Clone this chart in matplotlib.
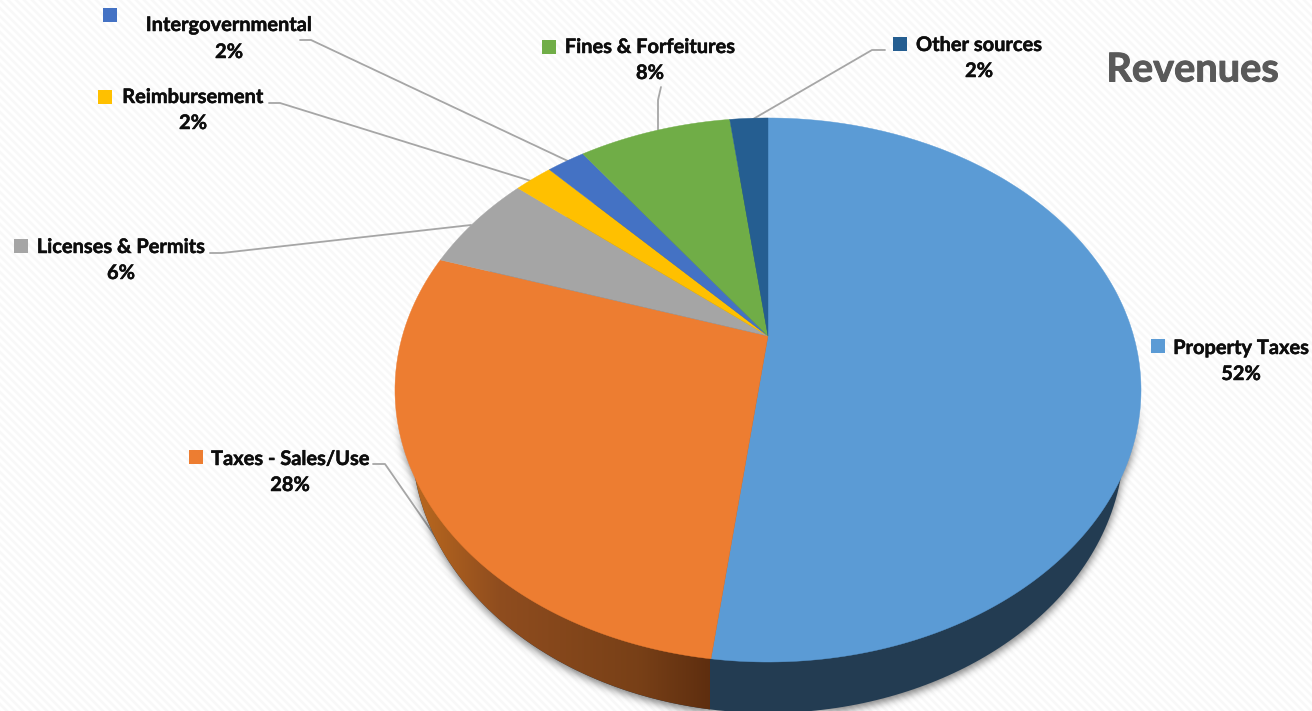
import numpy as np
import matplotlib
matplotlib.use("Agg")
import matplotlib.pyplot as plt
from matplotlib.patches import Polygon
import matplotlib.patheffects as pe

# Revenue shares, listed clockwise from twelve o'clock
categories = ["Property Taxes", "Taxes - Sales/Use", "Licenses & Permits", "Reimbursement",
              "Intergovernmental", "Fines & Forfeitures", "Other sources"]
shares = [52, 28, 6, 2, 2, 8, 2]
colors = ["#5B9BD5", "#ED7D31", "#A5A5A5", "#FFC000", "#4472C4", "#70AD47", "#255E91"]
title = "Revenues"

# Label anchors: key square centre, text centre
key_pos = [(1158, 346), (196, 457), (20.5, 246), (105, 96.5), (110, 14.5), (548.5, 47), (900, 44)]
text_pos = [(1241, 348), (290, 459), (121, 247), (193, 97), (229, 25), (650, 47), (979, 45)]
pct_pos = [(1241, 374), (290, 485), (121, 273), (193, 123), (229, 52), (650, 73), (979, 71)]
leaders = [None,
           [(373, 464), (385, 464), (446, 552)],
           [(210, 253), (222, 253), (471, 225)],
           [(269, 103), (280, 103), (531, 181)],
           [(300, 40), (311, 40), (570, 162)],
           [(661, 87), (658, 100), (658, 130)],
           [(885, 50), (872, 50), (748, 122)]]

W, H = 1312, 711
APEX = (768, 336)
TILT = 0.1985
SCALE_X, SCALE_Y = 365.6, 261.3
BASE_CENTRE = (768, 441)
BASE_RX, BASE_RY = 356, 272


def top_point(theta):
    """Perspective projection of a rim angle (clockwise from north) on to the pie's top face."""
    d = 1 + TILT * np.cos(theta)
    return APEX[0] + SCALE_X * np.sin(theta) / d, APEX[1] - SCALE_Y * np.cos(theta) / d


def rim(a, b, n=200):
    return top_point(np.linspace(a, b, n))


def base_ellipse(n=500):
    t = np.linspace(0, 2 * np.pi, n)
    return BASE_CENTRE[0] + BASE_RX * np.cos(t), BASE_CENTRE[1] + BASE_RY * np.sin(t)


def blur(img, sigma):
    r = int(3 * sigma)
    k = np.exp(-0.5 * (np.arange(-r, r + 1) / sigma) ** 2)
    k /= k.sum()
    img = np.apply_along_axis(lambda v: np.convolve(v, k, mode="same"), 0, img)
    return np.apply_along_axis(lambda v: np.convolve(v, k, mode="same"), 1, img)


plt.rcParams["font.family"] = ["Lato", "DejaVu Sans"]
fig = plt.figure(figsize=(W / 100, H / 100), dpi=100)
ax = fig.add_axes([0, 0, 1, 1])
ax.set_xlim(0, W)
ax.set_ylim(H, 0)
ax.axis("off")

# Faint diagonal hatching on the page
yy, xx = np.mgrid[0:H, 0:W]
phase = np.cos(2 * np.pi * (xx - yy) / 8.0)
page = 1.0 - 0.03 * (0.5 + 0.5 * np.clip(phase * 2, -1, 1))
ax.imshow(page, cmap="gray", vmin=0, vmax=1, extent=(0, W, H, 0), aspect="auto",
          interpolation="nearest", zorder=0)

# Leader lines run beneath the pie
for path in leaders:
    if path:
        px, py = zip(*path)
        ax.plot(px, py, color="#A6A6A6", lw=1.3, zorder=1, solid_capstyle="round")

# Soft drop shadow: blurred silhouette of the lower half of the solid, nudged downward
inside_base = ((xx - BASE_CENTRE[0]) / BASE_RX) ** 2 + ((yy - BASE_CENTRE[1] - 3) / BASE_RY) ** 2 <= 1
inside_top = ((xx - 768) / 373) ** 2 + ((yy - 393) / 272) ** 2 <= 1
silhouette = blur((inside_base | inside_top).astype(float), 4.0)
shadow = np.zeros((H, W, 4))
shadow[..., 3] = 0.5 * silhouette * np.clip((yy - 400) / 60, 0, 1)
ax.imshow(shadow, extent=(0, W, H, 0), aspect="auto", interpolation="nearest", zorder=2)

edges = np.cumsum([0] + shares) / sum(shares) * 2 * np.pi

# Side wall: blue slice flat dark, orange slice darkening toward the front
bx, by = base_ellipse()
ax.fill(bx, by, color="#233C52", lw=0, zorder=3)

seam_x = top_point(edges[1])[0] - 1
grad_x = np.linspace(395, seam_x, 300)
ramp_x = [395, 430, 500, 640, seam_x]
ramp = np.stack([np.interp(grad_x, ramp_x, [c0, c1, c2, c3, c4]) for c0, c1, c2, c3, c4 in zip(
    (0.74, 0.42, 0.14), (0.70, 0.39, 0.12), (0.56, 0.30, 0.12), (0.47, 0.25, 0.09), (0.37, 0.18, 0.06))], axis=-1)
wall = ax.imshow(ramp[np.newaxis, :, :], extent=(395, seam_x, H, 430), aspect="auto",
                 interpolation="bilinear", zorder=4)
wall.set_clip_path(Polygon(np.c_[bx, by], transform=ax.transData))

# Top face, one slice at a time
for start, stop, colour in zip(edges[:-1], edges[1:], colors):
    rx_, ry_ = rim(start, stop)
    ax.fill(np.r_[APEX[0], rx_], np.r_[APEX[1], ry_], color=colour, ec=colour, lw=0.3, zorder=5)

# Labels: key square, name and percentage
heavy = [pe.withStroke(linewidth=0.35, foreground="#0D0D0D")]
for name, share, colour, key, tp, pp in zip(categories, shares, colors, key_pos, text_pos, pct_pos):
    ax.plot(*key, marker="s", ms=9.6, color=colour, mew=0, zorder=6)
    ax.text(*tp, name, ha="center", va="center", fontsize=14.4, fontweight="bold",
            color="#0D0D0D", zorder=6, path_effects=heavy)
    ax.text(*pp, f"{share}%", ha="center", va="center", fontsize=14.4, fontweight="bold",
            color="#0D0D0D", zorder=6, path_effects=heavy)

ax.text(1192.5, 70, title, ha="center", va="center", fontsize=28.6, fontweight="bold", color="#595959",
        zorder=6, path_effects=[pe.withStroke(linewidth=0.7, foreground="#595959")])

fig.savefig("out.png", dpi=100)
